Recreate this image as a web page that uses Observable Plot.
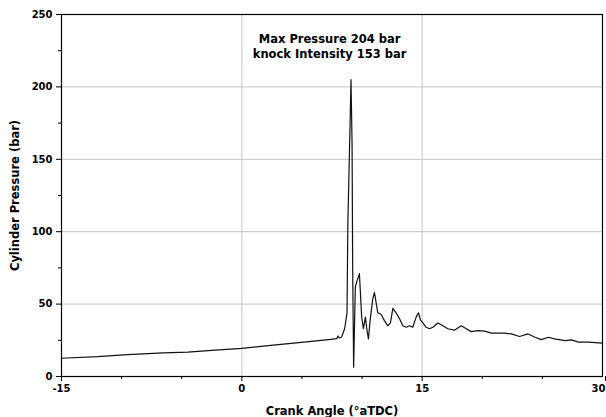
<!DOCTYPE html>
<html>
<head>
<meta charset="utf-8">
<script src="https://cdn.jsdelivr.net/npm/d3@7"></script>
<script src="https://cdn.jsdelivr.net/npm/@observablehq/plot@0.6"></script>
<style>
  html, body { margin: 0; padding: 0; background: #fff; }
  #chart svg { display: block; }
</style>
</head>
<body>
<div id="chart"></div>
<script>
const crankAngle = [-15, -12, -9.5, -6.5, -4.5, -2.5, 0, 2, 4.3, 6, 7.4, 7.9, 8.0, 8.1, 8.3, 8.55, 8.75,
  8.82, 9.0, 9.08, 9.17, 9.22, 9.3, 9.44, 9.58, 9.78, 9.9, 9.97, 10.11, 10.28, 10.39, 10.53, 10.67,
  10.89, 11.03, 11.17, 11.31, 11.58, 11.86, 12.14, 12.36, 12.56, 12.83, 13.11, 13.39, 13.67, 13.94,
  14.22, 14.5, 14.69, 14.86, 15.06, 15.33, 15.61, 15.89, 16.31, 16.72, 17.14, 17.69, 18.25, 18.67,
  19.08, 19.64, 20.2, 20.75, 21.3, 21.86, 22.4, 23.1, 23.8, 24.4, 24.9, 25.5, 26.0, 26.9, 27.4,
  28.0, 28.8, 30];
const pressure = [12.6, 13.7, 15.1, 16.3, 16.9, 18.0, 19.4, 21.2, 23.0, 24.4, 25.6, 26.2, 28.0, 26.6, 27.3, 33, 44,
  106, 173, 205, 160, 73, 6.4, 62, 66, 71, 52, 41, 33, 41, 33, 26, 38.6,
  53.6, 58, 51, 44, 43, 38.6, 35, 37, 47, 44, 40, 35, 34, 35,
  34, 41, 44, 39, 37, 34, 33, 34, 37, 35, 33, 32, 35, 33,
  31, 31.7, 31.3, 30, 30, 30, 29.4, 27.6, 29.4, 27.1, 25.5, 27.1, 26, 24.8, 25.3,
  23.7, 23.7, 23];

const xMajor = [-15, 0, 15];
const xLast = [30];
const xMinor = [-10, -5, 5, 10, 20, 25];
const yMajor = [0, 50, 100, 150, 200, 250];
const yMinor = [25, 75, 125, 175, 225];
const xGrid = [0, 15];
const yGrid = [50, 100, 150, 200];
const annotation = ["Max Pressure 204 bar", "knock Intensity 153 bar"];
const annotationX = [7.3, 7.3];
const annotationY = [233, 222.5];

const data = crankAngle.map((a, i) => ({a, p: pressure[i]}));
const notes = annotation.map((t, i) => ({t, x: annotationX[i], y: annotationY[i]}));

const font = "'DejaVu Sans', sans-serif";

const chart = Plot.plot({
  width: 606,
  height: 417,
  marginLeft: 61,
  marginRight: 4,
  marginTop: 14,
  marginBottom: 41,
  style: {fontFamily: font, fontWeight: "bold", fontSize: "10px", color: "#000", background: "#fff"},
  x: {domain: [-15, 30]},
  y: {domain: [0, 250]},
  marks: [
    Plot.gridX(xGrid, {stroke: "#c4c4c4", strokeOpacity: 1, strokeWidth: 1}),
    Plot.gridY(yGrid, {stroke: "#c4c4c4", strokeOpacity: 1, strokeWidth: 1}),
    Plot.axisX(xMajor, {tickSize: 5, tickPadding: 3, tickFormat: d => d, label: "Crank Angle (°aTDC)", labelAnchor: "center", labelArrow: "none", labelOffset: 38, fontSize: 10}),
    Plot.axisX(xLast, {tickSize: 5, tickPadding: 3, tickFormat: d => d, textAnchor: "end", dx: 3, label: null, fontSize: 10}),
    Plot.axisX(xMinor, {tickSize: 3, text: null, label: null}),
    Plot.axisY(yMajor, {tickSize: 5, tickPadding: 4, tickFormat: d => d, label: "Cylinder Pressure (bar)", labelAnchor: "center", labelArrow: "none", labelOffset: 51, fontSize: 10}),
    Plot.axisY(yMinor, {tickSize: 3, text: null, label: null}),
    Plot.line(data, {x: "a", y: "p", stroke: "#111", strokeWidth: 1.2, curve: "linear"}),
    Plot.frame({stroke: "#000", strokeWidth: 1.2}),
    Plot.text(notes, {x: "x", y: "y", text: "t", fontSize: 11.5, fontWeight: "bold", fill: "#000", textAnchor: "middle"})
  ]
});

chart.querySelectorAll("g[aria-label='x-axis label'] text, g[aria-label='y-axis label'] text").forEach(t => t.setAttribute("font-size", "11.5"));
document.getElementById("chart").appendChild(chart);
</script>
</body>
</html>
